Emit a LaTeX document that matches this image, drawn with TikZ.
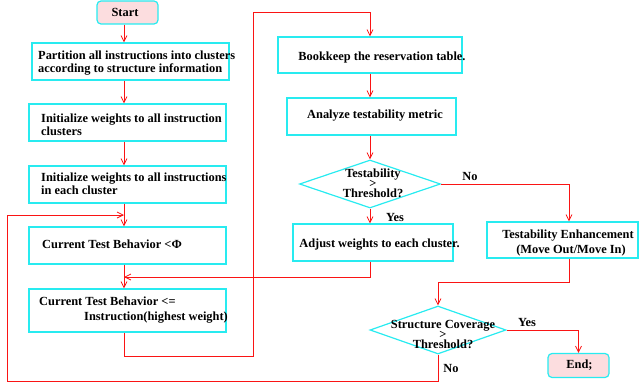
\documentclass[tikz,border=0pt]{standalone}
\usepackage{fontspec}
\setmainfont{Liberation Serif}
\usetikzlibrary{shapes.geometric,arrows.meta}
\definecolor{boxcyan}{RGB}{40,235,240}
\definecolor{termpink}{RGB}{252,221,223}
\definecolor{flowred}{RGB}{250,20,20}
\begin{document}
\begin{tikzpicture}[x=1pt,y=-1pt,
 box/.style={draw=boxcyan, line width=1.2pt, inner sep=0pt, rectangle},
 term/.style={box, fill=termpink, rounded corners=4pt},
 dec/.style={draw=boxcyan, line width=1.2pt, diamond, inner sep=0pt},
 lbl/.style={font=\bfseries\fontsize{12.4}{13}\selectfont, inner sep=0pt, align=left},
 clbl/.style={lbl, align=center},
 flow/.style={draw=flowred, line width=0.8pt},
 arr/.style={flow, -{Straight Barb[length=6pt,width=6pt]}},
]
\useasboundingbox (0,0) rectangle (639,385);

% left column
\node[term, minimum width=61pt, minimum height=23pt] (start) at (127.5,12.5) {};
\node[clbl] (tstart) at (125,12.5) {Start};
\node[box, minimum width=197pt, minimum height=37pt] (b1) at (130.5,61.5) {};
\node[lbl, anchor=west] (t1) at (38,63.5) {Partition all instructions into clusters\\according to structure information};
\node[box, minimum width=197pt, minimum height=37pt] (b2) at (127.5,122.5) {};
\node[lbl, anchor=west] (t2) at (41,125) {Initialize weights to all instruction\\clusters};
\node[box, minimum width=197pt, minimum height=37pt] (b3) at (127.5,184.5) {};
\node[lbl, anchor=west] (t3) at (41,183.5) {Initialize weights to all instructions\\in each cluster};
\node[box, minimum width=197pt, minimum height=37pt] (b4) at (127.5,245.5) {};
\node[lbl, anchor=west] (t4) at (42,244) {Current Test Behavior <Φ};
\node[box, minimum width=197pt, minimum height=43pt] (b5) at (127.5,310.5) {};
\node[lbl, anchor=west, font=\bfseries\fontsize{12.4}{15}\selectfont] (t5) at (39,310.5) {Current Test Behavior <=\\\hspace*{45pt}Instruction(highest weight)};

% right column
\node[box, minimum width=184pt, minimum height=36pt] (bk) at (370,55) {};
\node[clbl] (tbk) at (382,58) {Bookkeep the reservation table.};
\node[box, minimum width=169pt, minimum height=37pt] (an) at (371.5,116.5) {};
\node[clbl] (tan) at (375,116) {Analyze testability metric};
\node[dec, minimum width=141pt, minimum height=48pt] (d1) at (370,184) {};
\node[clbl, font=\bfseries\fontsize{12.4}{10}\selectfont] (td1) at (373,183) {Testability\\>\\Threshold?};
\node[box, minimum width=160pt, minimum height=37pt] (adj) at (373,242.5) {};
\node[clbl] (tadj) at (379.5,245) {Adjust weights to each cluster.};
\node[box, minimum width=151pt, minimum height=36pt] (te) at (562.5,240) {};
\node[clbl, font=\bfseries\fontsize{12.4}{15}\selectfont] (tte) at (568,243.5) {Testability Enhancement\\\hspace*{6pt}(Move Out/Move In)};
\node[dec, minimum width=136pt, minimum height=48pt] (d2) at (438,330) {};
\node[clbl, font=\bfseries\fontsize{12.4}{10}\selectfont] (td2) at (443,334) {Structure Coverage\\>\\Threshold?};
\node[term, minimum width=61pt, minimum height=24pt] (end) at (578.5,365.5) {};
\node[clbl] (tend) at (579.5,365.5) {End;};

% edge labels
\node[lbl] (lno1) at (470,177) {No};
\node[lbl] (lyes1) at (395,217) {Yes};
\node[lbl] (lyes2) at (527,322) {Yes};
\node[lbl] (lno2) at (451,368) {No};

% helper coordinates
\coordinate (sp) at (124,0);
\coordinate (sp2) at (370,0);
\coordinate (tex) at (569,0);
\coordinate (j1) at (124,215);
\coordinate (j2) at (124,277);
\coordinate (rb) at (253,356);
\coordinate (rt) at (253,12);
\coordinate (m2) at (0,282);
\coordinate (bl) at (7,381);
\coordinate (tl) at (7,215);

% connectors
\draw[arr] (start.south -| sp) -- (b1.north -| sp);
\draw[arr] (b1.south -| sp) -- (b2.north -| sp);
\draw[arr] (b2.south -| sp) -- (b3.north -| sp);
\draw[arr] (b3.south -| sp) -- (b4.north -| sp);
\draw[arr] (b4.south -| sp) -- (b5.north -| sp);
\draw[arr] (b5.south -| sp) |- (rb) -- (rt) -| (bk.north);
\draw[arr] (bk.south -| sp2) -- (an.north -| sp2);
\draw[arr] (an.south -| sp2) -- (d1.north);
\draw[arr] (d1.south) -- (adj.north -| d1.south);
\draw[arr] (adj.south -| sp2) |- (j2);
\draw[arr] (d1.east) -| (te.north -| tex);
\draw[arr] (te.south -| tex) |- (m2 -| d2.north) -- (d2.north);
\draw[arr] (d2.east) -| (end.north);
\draw[arr] (d2.south) |- (bl) -- (tl) -- (j1);
\end{tikzpicture}
\end{document}
